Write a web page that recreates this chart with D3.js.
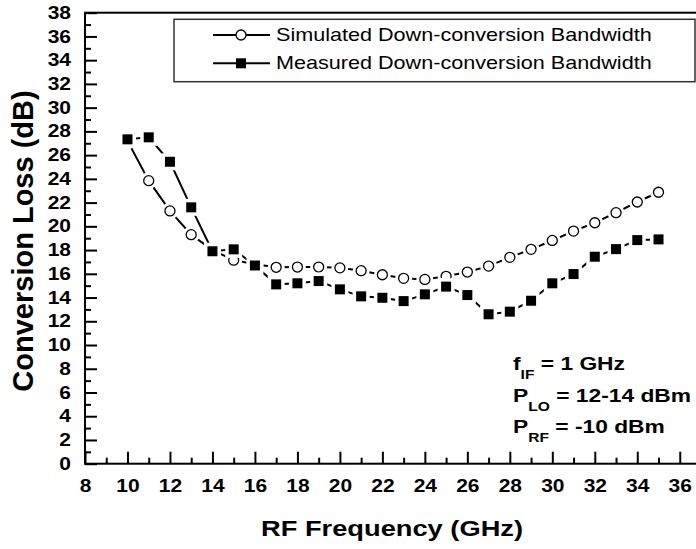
<!DOCTYPE html>
<html>
<head>
<meta charset="utf-8">
<script src="https://cdn.jsdelivr.net/npm/d3@7/dist/d3.min.js"></script>
<style>
    body { margin: 0; background: #fff; }
    svg { display: block; font-family: "Liberation Sans", Arial, sans-serif; }
</style>
</head>
<body>
<svg id="chart" width="696" height="549"></svg>
<script>
const freqs = [10, 11, 12, 13, 14, 15, 16, 17, 18, 19, 20, 21, 22, 23, 24, 25, 26, 27, 28, 29, 30, 31, 32, 33, 34, 35]
const simulated = [27.2, 23.85, 21.3, 19.3, 18.0, 17.15, 16.8, 16.55, 16.57, 16.57, 16.5, 16.26, 15.92, 15.62, 15.53, 15.79, 16.15, 16.65, 17.39, 18.06, 18.81, 19.6, 20.3, 21.15, 22.05, 22.87]
const measured = [27.33, 27.5, 25.44, 21.6, 17.9, 18.06, 16.7, 15.11, 15.2, 15.39, 14.69, 14.1, 13.98, 13.7, 14.27, 14.92, 14.21, 12.59, 12.81, 13.73, 15.2, 15.98, 17.44, 18.08, 18.84, 18.9]
const seriesNames = ["Simulated Down-conversion Bandwidth", "Measured Down-conversion Bandwidth"]
const xMajor = [8, 10, 12, 14, 16, 18, 20, 22, 24, 26, 28, 30, 32, 34, 36]
const xMinor = [9, 11, 13, 15, 17, 19, 21, 23, 25, 27, 29, 31, 33, 35]
const yMajor = [0, 2, 4, 6, 8, 10, 12, 14, 16, 18, 20, 22, 24, 26, 28, 30, 32, 34, 36, 38]
const yMinor = [1, 3, 5, 7, 9, 11, 13, 15, 17, 19, 21, 23, 25, 27, 29, 31, 33, 35, 37]
const xTitle = "RF Frequency (GHz)"
const yTitle = "Conversion Loss (dB)"

// the original picture is stretched sideways a bit
const sx = 1.2

const svg = d3.select("#chart")
const plotLeft = 85, plotRight = 701, plotTop = 12.7, plotBottom = 463.7

const x = d3.scaleLinear([8, 37], [plotLeft, plotRight])
const y = d3.scaleLinear([0, 38], [plotBottom, plotTop])

// frame (right side falls outside the picture)
svg.append("rect")
    .attr("x", plotLeft).attr("y", plotTop)
    .attr("width", plotRight - plotLeft).attr("height", plotBottom - plotTop)
    .attr("fill", "none").attr("stroke", "#000").attr("stroke-width", 2)

function styleAxis(g) {
    g.select(".domain").remove()
    g.selectAll(".tick line").attr("stroke", "#000").attr("stroke-width", 2)
    g.selectAll("text")
        .attr("fill", "#000")
        .attr("font-size", 17.5)
        .attr("font-weight", "bold")
        .attr("font-family", "Liberation Sans, Arial, sans-serif")
}

svg.append("g")
    .attr("transform", `translate(0, ${plotBottom})`)
    .call(d3.axisBottom(x).tickValues(xMajor).tickSizeInner(-12).tickSizeOuter(0).tickPadding(16))
    .call(styleAxis)
    .call(g => g.selectAll("text").attr("transform", `scale(${sx},1)`))

svg.append("g")
    .attr("transform", `translate(0, ${plotBottom})`)
    .call(d3.axisBottom(x).tickValues(xMinor).tickSizeInner(-6).tickSizeOuter(0).tickFormat(""))
    .call(styleAxis)

svg.append("g")
    .attr("transform", `translate(${plotLeft}, 0)`)
    .call(d3.axisLeft(y).tickValues(yMajor).tickSizeInner(-12).tickSizeOuter(0).tickPadding(14))
    .call(styleAxis)
    .call(g => g.selectAll("text").attr("x", -14 / sx).attr("transform", `scale(${sx},1)`))

svg.append("g")
    .attr("transform", `translate(${plotLeft}, 0)`)
    .call(d3.axisLeft(y).tickValues(yMinor).tickSizeInner(-6).tickSizeOuter(0).tickFormat(""))
    .call(styleAxis)

// axis titles
svg.append("text")
    .attr("transform", `translate(392, 535.7) scale(1.24,1)`)
    .attr("text-anchor", "middle")
    .attr("font-size", 22)
    .attr("font-weight", "bold")
    .text(xTitle)

svg.append("text")
    .attr("transform", "translate(33, 241) rotate(-90)")
    .attr("text-anchor", "middle")
    .attr("font-size", 29)
    .attr("font-weight", "bold")
    .text(yTitle)

// series
const line = d3.line().x(d => x(d[0])).y(d => y(d[1]))
const simPts = freqs.map((f, i) => [f, simulated[i]])
const measPts = freqs.map((f, i) => [f, measured[i]])

const halo = 3.5, r = 5, side = 10

function drawSeries(pts, kind) {
    const g = svg.append("g")
    g.append("path")
        .attr("d", line(pts))
        .attr("fill", "none").attr("stroke", "#000").attr("stroke-width", 2)
    if (kind === "circle") {
        g.selectAll(".halo").data(pts).join("circle").attr("class", "halo")
            .attr("cx", d => x(d[0])).attr("cy", d => y(d[1]))
            .attr("r", r + halo).attr("fill", "#fff")
        g.selectAll(".mark").data(pts).join("circle").attr("class", "mark")
            .attr("cx", d => x(d[0])).attr("cy", d => y(d[1]))
            .attr("r", r).attr("fill", "#fff").attr("stroke", "#000").attr("stroke-width", 1.3)
    } else {
        g.selectAll(".halo").data(pts).join("rect").attr("class", "halo")
            .attr("x", d => x(d[0]) - side / 2 - halo).attr("y", d => y(d[1]) - side / 2 - halo)
            .attr("width", side + 2 * halo).attr("height", side + 2 * halo).attr("fill", "#fff")
        g.selectAll(".mark").data(pts).join("rect").attr("class", "mark")
            .attr("x", d => x(d[0]) - side / 2).attr("y", d => y(d[1]) - side / 2)
            .attr("width", side).attr("height", side).attr("fill", "#000")
    }
}

drawSeries(simPts, "circle")
drawSeries(measPts, "square")

// legend
const legend = svg.append("g")
legend.append("rect")
    .attr("x", 174).attr("y", 19.3).attr("width", 521).attr("height", 62.4)
    .attr("fill", "#fff").attr("stroke", "#333").attr("stroke-width", 1.5)

seriesNames.forEach((name, i) => {
    const ly = 35 + i * 28.3
    legend.append("line")
        .attr("x1", 213).attr("x2", 270).attr("y1", ly).attr("y2", ly)
        .attr("stroke", "#000").attr("stroke-width", 2)
    if (i === 0) {
        legend.append("circle").attr("cx", 241).attr("cy", ly).attr("r", r)
            .attr("fill", "#fff").attr("stroke", "#000").attr("stroke-width", 1.3)
    } else {
        legend.append("rect").attr("x", 241 - side / 2).attr("y", ly - side / 2)
            .attr("width", side).attr("height", side).attr("fill", "#000")
    }
    legend.append("text")
        .attr("transform", `translate(276, ${ly + 5.5}) scale(${sx},1)`)
        .attr("font-size", 18)
        .text(name)
})

// conditions note
const notes = [
    ["f", "IF", " = 1 GHz"],
    ["P", "LO", " = 12-14 dBm"],
    ["P", "RF", " = -10 dBm"],
]
notes.forEach((n, i) => {
    const t = svg.append("text")
        .attr("transform", `translate(513, ${370 + i * 31.7}) scale(${sx},1)`)
        .attr("font-size", 19)
        .attr("font-weight", "bold")
    t.append("tspan").text(n[0])
    t.append("tspan").attr("font-size", 13).attr("dy", 9).text(n[1])
    t.append("tspan").attr("dy", -9).text(n[2])
})
</script>
</body>
</html>
